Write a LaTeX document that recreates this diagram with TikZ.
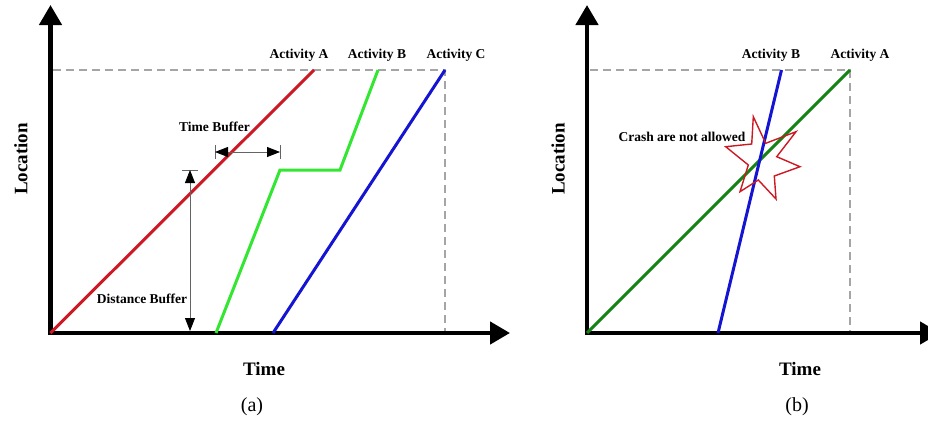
\documentclass[tikz,border=0pt]{standalone}
\usepackage{fontspec}
\setmainfont{Liberation Serif}
\usetikzlibrary{arrows.meta}
\definecolor{actred}{RGB}{205,25,35}
\definecolor{actgreen}{RGB}{50,230,50}
\definecolor{actblue}{RGB}{20,20,210}
\definecolor{actdkgreen}{RGB}{20,130,20}
\definecolor{guidegray}{RGB}{165,165,165}
\definecolor{dimgray}{RGB}{100,100,100}
\begin{document}
\begin{tikzpicture}[x=1pt,y=-1pt,
  axis/.style={line width=4.5pt,-{Triangle[length=20pt,width=22pt]}},
  guide/.style={guidegray,line width=1.3pt,dash pattern=on 8pt off 5pt},
  act/.style={line width=3pt},
  dimline/.style={dimgray,line width=0.8pt},
  dimarrows/.style={dimline,{Triangle[length=13pt,width=10pt,color=black]}-{Triangle[length=13pt,width=10pt,color=black]}},
  lbl/.style={font=\bfseries\fontsize{13.5}{15}\selectfont,inner sep=0pt},
  axlbl/.style={font=\bfseries\fontsize{19}{21}\selectfont,inner sep=0pt},
  figcap/.style={font=\fontsize{20}{22}\selectfont,inner sep=0pt}]
\useasboundingbox (0,0) rectangle (928,423);
% ---------------- panel (a) ----------------
\coordinate (aO) at (50.5,335.2);
\coordinate (aY) at (50.5,5);
\coordinate (aX0) at (48.3,333);
\coordinate (aX) at (510,333);
\coordinate (aG1) at (53,70);
\coordinate (aG2) at (445,70);
\coordinate (aG3) at (445,331);
\draw[guide] (aG1) -- (aG2) -- (aG3);
\draw[axis] (aO) -- (aY);
\draw[axis] (aX0) -- (aX);
% activities
\coordinate (aRa) at (50.5,333);
\coordinate (aRb) at (314,70);
\draw[act,actred] (aRa) -- (aRb);
\coordinate (aGa) at (216,333);
\coordinate (aGb) at (280,170);
\coordinate (aGc) at (340,170);
\coordinate (aGd) at (378,70);
\draw[act,actgreen] (aGa) -- (aGb) -- (aGc) -- (aGd);
\coordinate (aBa) at (273,333);
\coordinate (aBb) at (445,70);
\draw[act,actblue] (aBa) -- (aBb);
% labels
\node[lbl] (actA) at (299,55) {Activity A};
\node[lbl] (actB) at (377,55) {Activity B};
\node[lbl] (actC) at (456,55) {Activity C};
% time buffer
\coordinate (tb1) at (215,152);
\coordinate (tb2) at (280,152);
\coordinate (tb1u) at (215,145);
\coordinate (tb1d) at (215,159);
\coordinate (tb2u) at (280,145);
\coordinate (tb2d) at (280,159);
\draw[dimline] (tb1u) -- (tb1d);
\draw[dimline] (tb2u) -- (tb2d);
\draw[dimarrows] (tb1) -- (tb2);
\node[lbl] (tbl) at (214.5,127) {Time Buffer};
% distance buffer
\coordinate (db1) at (190,170);
\coordinate (db2) at (190,331);
\coordinate (db1l) at (182,170);
\coordinate (db1r) at (198,170);
\draw[dimline] (db1l) -- (db1r);
\draw[dimarrows] (db1) -- (db2);
\node[lbl] (dbl) at (142,299) {Distance Buffer};
% axis labels
\node[axlbl,rotate=90] (aLoc) at (21,159) {Location};
\node[axlbl] (aTime) at (264,369) {Time};
\node[figcap] (capa) at (252,407) {(a)};
% ---------------- panel (b) ----------------
\coordinate (bO) at (587,335.2);
\coordinate (bY) at (587,5);
\coordinate (bX0) at (584.8,333);
\coordinate (bX) at (940,333);
\coordinate (bG1) at (590,70);
\coordinate (bG2) at (850,70);
\coordinate (bG3) at (850,331);
\draw[guide] (bG1) -- (bG2) -- (bG3);
\draw[axis] (bO) -- (bY);
\draw[axis] (bX0) -- (bX);
\coordinate (bAa) at (587,333);
\coordinate (bAb) at (850,70);
\draw[act,actdkgreen] (bAa) -- (bAb);
\coordinate (bBa) at (718,333);
\coordinate (bBb) at (781.5,70);
\draw[act,actblue] (bBa) -- (bBb);
\node[lbl] (bactB) at (771,55) {Activity B};
\node[lbl] (bactA) at (860,55) {Activity A};
\node[lbl] (crash) at (682,137) {Crash are not allowed};
% star
\draw[actred,line width=1.4pt,line join=miter]
  (753.3,116.7) -- (765.7,143.3) -- (796,131.7) -- (776.7,156.7) --
  (800,166.7) -- (774.3,176) -- (776,199) -- (758.3,180) --
  (740,191.7) -- (748.3,165) -- (725.7,146.7) -- (751.7,144) -- cycle;
\node[axlbl,rotate=90] (bLoc) at (558,159) {Location};
\node[axlbl] (bTime) at (800,369) {Time};
\node[figcap] (capb) at (797,407) {(b)};
\end{tikzpicture}
\end{document}
